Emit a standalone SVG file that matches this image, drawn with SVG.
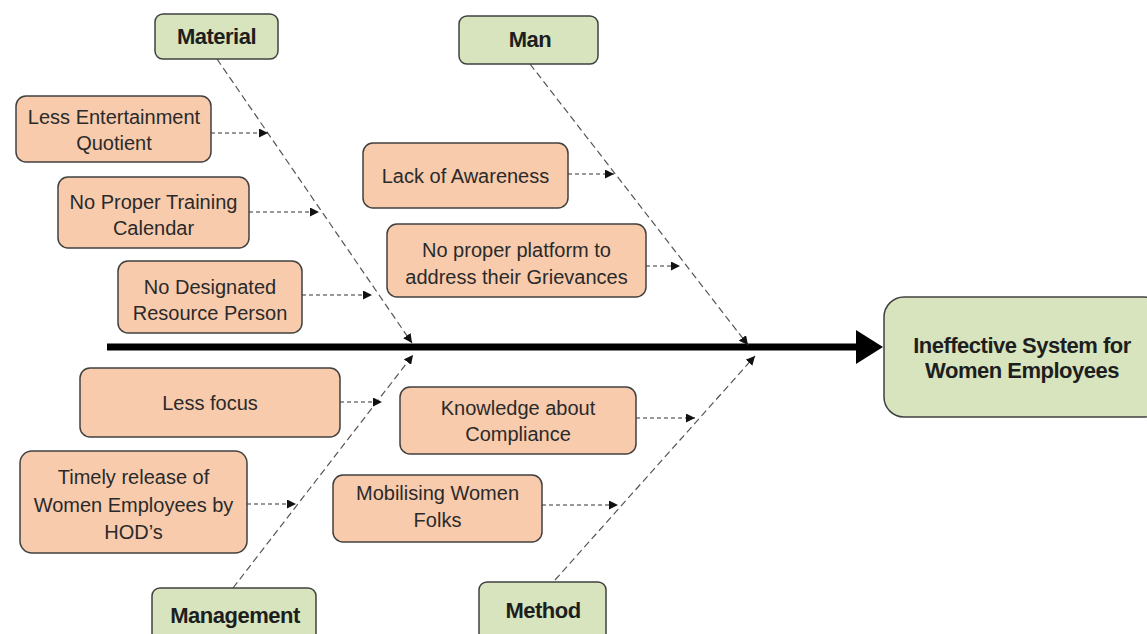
<svg xmlns="http://www.w3.org/2000/svg" width="1147" height="634" viewBox="0 0 1147 634">
<defs>
<style>
.cause rect{fill:#F8CBAD;stroke:#404040;stroke-width:1.5}
.cat rect{fill:#D7E4BD;stroke:#404040;stroke-width:1.5}
.t{font-family:"Liberation Sans",Arial,sans-serif;font-size:20px;fill:#2a2a2a;text-anchor:middle}
.b{font-family:"Liberation Sans",Arial,sans-serif;font-size:22px;font-weight:bold;fill:#1e1e1e;text-anchor:middle;letter-spacing:-0.5px}
.bone{fill:none;stroke:#555;stroke-width:1.2;stroke-dasharray:7 4}
.sub{fill:none;stroke:#333;stroke-width:1.2;stroke-dasharray:4 3}
</style>
<marker id="ah" viewBox="0 0 10 10" refX="10" refY="5" markerWidth="9" markerHeight="9" markerUnits="userSpaceOnUse" orient="auto">
<path d="M0,0 L10,5 L0,10 z" fill="#111"/>
</marker>
</defs>
<rect width="1147" height="634" fill="#fff"/>

<g id="connectors">
<line x1="107" y1="347" x2="860" y2="347" stroke="#000" stroke-width="7"/>
<polygon points="856,330 883,347 856,364" fill="#000"/>
<line class="bone" x1="217" y1="59" x2="412" y2="343" marker-end="url(#ah)"/>
<line class="bone" x1="530" y1="64" x2="748" y2="345" marker-end="url(#ah)"/>
<line class="bone" x1="233" y1="588" x2="413" y2="355" marker-end="url(#ah)"/>
<line class="bone" x1="555" y1="580" x2="755" y2="356" marker-end="url(#ah)"/>
<line class="sub" x1="211" y1="133" x2="268" y2="133" marker-end="url(#ah)"/>
<line class="sub" x1="249" y1="212" x2="319" y2="212" marker-end="url(#ah)"/>
<line class="sub" x1="302" y1="295" x2="372" y2="295" marker-end="url(#ah)"/>
<line class="sub" x1="568" y1="174" x2="614" y2="174" marker-end="url(#ah)"/>
<line class="sub" x1="646" y1="266" x2="680" y2="266" marker-end="url(#ah)"/>
<line class="sub" x1="340" y1="402" x2="382" y2="402" marker-end="url(#ah)"/>
<line class="sub" x1="247" y1="504" x2="296" y2="504" marker-end="url(#ah)"/>
<line class="sub" x1="636" y1="418" x2="695" y2="418" marker-end="url(#ah)"/>
<line class="sub" x1="542" y1="505" x2="618" y2="505" marker-end="url(#ah)"/>
</g>

<g id="material" class="cat"><rect x="155" y="14" width="123" height="45" rx="8"/><text class="b" x="216.5" y="44">Material</text></g>
<g id="man" class="cat"><rect x="459" y="16" width="139" height="48" rx="8"/><text class="b" x="530" y="47">Man</text></g>
<g id="management" class="cat"><rect x="152" y="588" width="164" height="60" rx="8"/><text class="b" x="235" y="623">Management</text></g>
<g id="method" class="cat"><rect x="479" y="582" width="127" height="60" rx="8"/><text class="b" x="543" y="618">Method</text></g>
<g id="effect" class="cat"><rect x="884" y="297" width="280" height="120" rx="20"/><text class="b" x="1022" y="353">Ineffective System for</text><text class="b" x="1022" y="378">Women Employees</text></g>

<g id="c1" class="cause"><rect x="16" y="96" width="195" height="66" rx="10"/><text class="t" x="114" y="124">Less Entertainment</text><text class="t" x="114" y="150">Quotient</text></g>
<g id="c2" class="cause"><rect x="58" y="177" width="191" height="71" rx="10"/><text class="t" x="153.5" y="209">No Proper Training</text><text class="t" x="153.5" y="235">Calendar</text></g>
<g id="c3" class="cause"><rect x="118" y="261" width="184" height="72" rx="10"/><text class="t" x="210" y="294">No Designated</text><text class="t" x="210" y="320">Resource Person</text></g>
<g id="c4" class="cause"><rect x="363" y="143" width="205" height="65" rx="10"/><text class="t" x="465.5" y="183">Lack of Awareness</text></g>
<g id="c5" class="cause"><rect x="387" y="224" width="259" height="73" rx="10"/><text class="t" x="516.5" y="257">No proper platform to</text><text class="t" x="516.5" y="284">address their Grievances</text></g>
<g id="c6" class="cause"><rect x="80" y="368" width="260" height="69" rx="10"/><text class="t" x="210" y="410">Less focus</text></g>
<g id="c7" class="cause"><rect x="20" y="451" width="227" height="102" rx="12"/><text class="t" x="133.5" y="484">Timely release of</text><text class="t" x="133.5" y="512">Women Employees  by</text><text class="t" x="133.5" y="539">HOD’s</text></g>
<g id="c8" class="cause"><rect x="400" y="387" width="236" height="67" rx="10"/><text class="t" x="518" y="415">Knowledge about</text><text class="t" x="518" y="441">Compliance</text></g>
<g id="c9" class="cause"><rect x="333" y="475" width="209" height="67" rx="10"/><text class="t" x="437.5" y="500">Mobilising Women</text><text class="t" x="437.5" y="527">Folks</text></g>
</svg>
